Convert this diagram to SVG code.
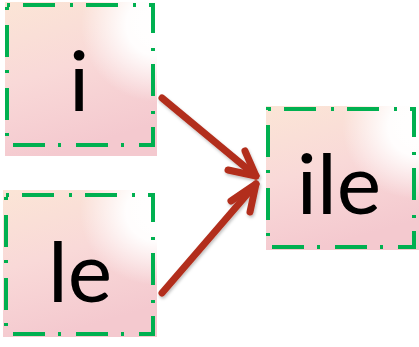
<svg xmlns="http://www.w3.org/2000/svg" width="419" height="347" viewBox="0 0 419 347">
<defs>
<linearGradient id="wc" x1="0" y1="0" x2="0.3" y2="1">
<stop offset="0" stop-color="#fbe5d6"/>
<stop offset="0.5" stop-color="#f9d9d8"/>
<stop offset="1" stop-color="#f4c9cf"/>
</linearGradient>
<radialGradient id="wh" cx="1" cy="0.15" r="0.5">
<stop offset="0" stop-color="#ffffff" stop-opacity="1"/>
<stop offset="0.4" stop-color="#ffffff" stop-opacity="0.95"/>
<stop offset="1" stop-color="#ffffff" stop-opacity="0"/>
</radialGradient>
<filter id="sh" x="-20%" y="-20%" width="140%" height="140%">
<feDropShadow dx="1" dy="2" stdDeviation="1.5" flood-color="#000" flood-opacity="0.25"/>
</filter>
</defs>
<style>
.bg{fill:url(#wc)}
.hl{fill:url(#wh)}
.bd{fill:none;stroke:#00b050;stroke-width:4;stroke-dasharray:32 15 3 13;stroke-dashoffset:47}
.t{font-family:"Lato","Open Sans",sans-serif;font-size:84px;fill:#000;text-anchor:middle}
.ar{fill:none;stroke:#b22e1c;stroke-width:7;stroke-linecap:round;stroke-linejoin:round}
</style>
<g id="node-i">
<rect class="bg" x="5" y="2" width="152" height="154"/>
<rect class="hl" x="5" y="2" width="152" height="154"/>
<rect class="bd" x="7" y="5" width="146" height="140"/>
<text class="t" x="79" y="111">i</text>
</g>
<g id="node-le">
<rect class="bg" x="3" y="190" width="154" height="147"/>
<rect class="hl" x="3" y="190" width="154" height="147"/>
<rect class="bd" x="6" y="195" width="147" height="139"/>
<text class="t" x="80" y="302">le</text>
</g>
<g id="node-ile">
<rect class="bg" x="266" y="106" width="153" height="144"/>
<rect class="hl" x="266" y="106" width="153" height="144"/>
<rect class="bd" x="268" y="109" width="146" height="138"/>
<text class="t" x="339" y="214">ile</text>
</g>
<g id="connectors" filter="url(#sh)">
<path class="ar" d="M162,98 L256,176"/>
<path class="ar" d="M228,170 L256,176 L245,151"/>
<path class="ar" d="M162,293 L256,184"/>
<path class="ar" d="M231,201 L256,184 L250,212"/>
</g>
</svg>
